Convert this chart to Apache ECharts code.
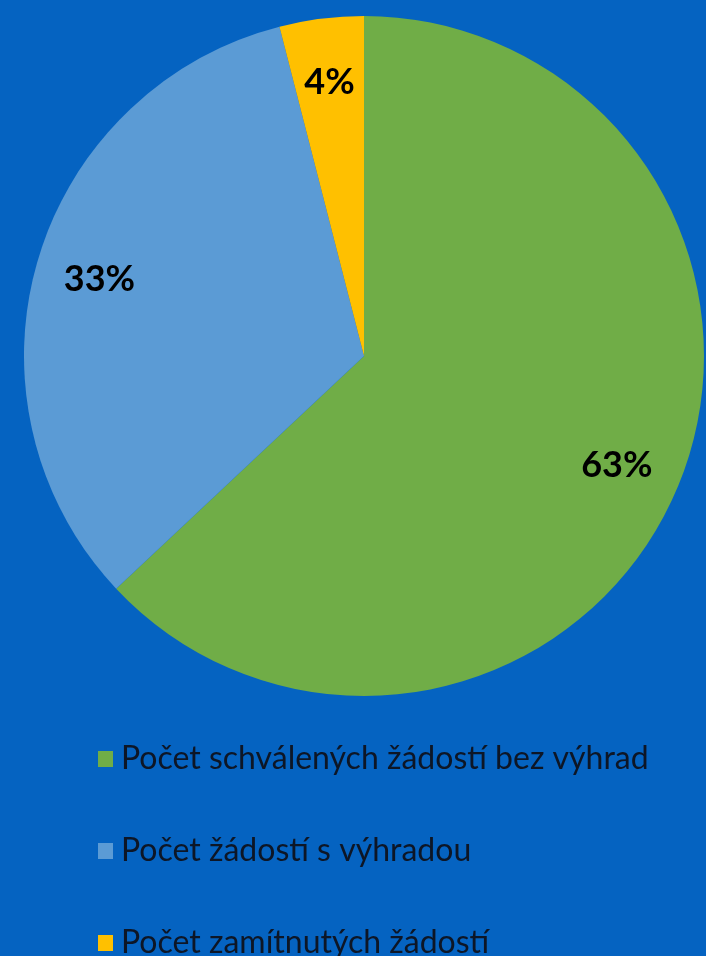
<!DOCTYPE html>
<html><head><meta charset="utf-8">
<script src="https://cdn.jsdelivr.net/npm/echarts@6/dist/echarts.min.js"></script>
<style>html,body{margin:0;padding:0;background:#0563c1;}#c{width:706px;height:956px;}</style>
</head><body><div id="c"></div>
<script>
const categories = ['Počet schválených žádostí bez výhrad', 'Počet žádostí s výhradou', 'Počet zamítnutých žádostí'];
const values = [63, 33, 4];
const colors = ['#70ad47', '#5b9bd5', '#ffc000'];

const data = categories.map((n, i) => ({ name: n, value: values[i], itemStyle: { color: colors[i] } }));
const chart = echarts.init(document.getElementById('c'));
chart.setOption({
  backgroundColor: '#0563c1',
  animation: false,
  legend: {
    orient: 'vertical', left: 93, top: 737, height: 230, width: 620,
    itemWidth: 15, itemHeight: 16, itemGap: 58,
    icon: 'rect',
    textStyle: { fontFamily: 'Lato', fontSize: 32, color: '#0d1626', lineHeight: 34, padding: [0,0,0,3] },
    data: categories
  },
  series: [
    {
      type: 'pie', center: [364, 356], radius: 340, startAngle: 90, clockwise: true,
      label: { show: false }, labelLine: { show: false }, silent: true,
      data: data
    },
    {
      type: 'pie', center: [364, 356], radius: [205, 340], startAngle: 90, clockwise: true,
      silent: true, legendHoverLink: false,
      itemStyle: { color: 'transparent' },
      label: { show: true, position: 'inside', formatter: '{d}%', fontFamily: 'Lato', fontWeight: 'bold', fontSize: 36, color: '#000' },
      labelLine: { show: false },
      data: categories.map((n, i) => ({ name: n, value: values[i], itemStyle: { color: 'transparent' } }))
    }
  ]
});
</script></body></html>
